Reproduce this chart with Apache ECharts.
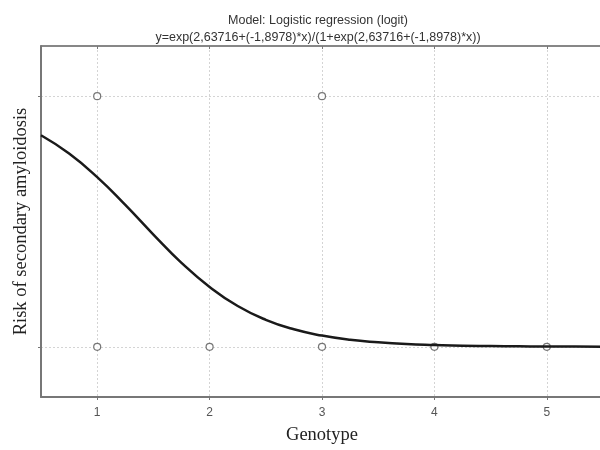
<!DOCTYPE html>
<html>
<head>
<meta charset="utf-8">
<script src="https://cdn.jsdelivr.net/npm/echarts@6/dist/echarts.min.js"></script>
<style>
  html, body { margin: 0; padding: 0; background: #fff; overflow: hidden; }
  /* plot runs past the right edge of the window, as in the original */
  #chart { width: 603px; height: 450px; }
</style>
</head>
<body>
<div id="chart"></div>
<script>
// observed cases (genotype, outcome)
const obsX = [1, 3, 1, 2, 3, 4, 5]
const obsY = [1, 1, 0, 0, 0, 0, 0]

// fitted logistic curve
const curveX = [0.5, 0.75, 1, 1.25, 1.5, 1.75, 2, 2.25, 2.5, 2.75, 3, 3.25, 3.5, 3.75, 4, 4.25, 4.5, 4.75, 5, 5.25, 5.5]
const curveY = [0.844, 0.771, 0.677, 0.566, 0.448, 0.335, 0.239, 0.163, 0.108, 0.070, 0.045, 0.028, 0.018, 0.011, 0.007, 0.004, 0.003, 0.002, 0.001, 0.001, 0.000]

const xTicks = [1, 2, 3, 4, 5]
const yTicks = [0, 1]

const chart = echarts.init(document.getElementById('chart'))

const gridLine = { show: true, lineStyle: { color: '#d4d4d4', type: [2, 2], width: 1 } }

chart.setOption({
  backgroundColor: '#fff',
  animation: false,
  title: {
    text: 'Model: Logistic regression (logit)\ny=exp(2,63716+(-1,8978)*x)/(1+exp(2,63716+(-1,8978)*x))',
    left: 313,
    top: 7,
    textAlign: 'center',
    textStyle: { fontFamily: 'Liberation Sans', fontSize: 12.5, fontWeight: 'normal', color: '#333', lineHeight: 17 }
  },
  grid: { left: 41, top: 46, bottom: 49, right: 0, show: true, borderColor: '#777', borderWidth: 1, backgroundColor: '#fff' },
  xAxis: [{
    type: 'value',
    min: 0.5,
    max: 5.5,
    name: 'Genotype',
    nameLocation: 'middle',
    nameGap: 29,
    nameTextStyle: { fontFamily: 'Liberation Serif', fontSize: 18.5, color: '#222' },
    axisLine: { show: true, onZero: false, lineStyle: { color: '#777', width: 2 } },
    axisTick: { show: true, customValues: xTicks, length: 3, lineStyle: { color: '#777' } },
    axisLabel: { customValues: xTicks, color: '#555', fontFamily: 'Liberation Sans', fontSize: 12, margin: 10 },
    splitLine: gridLine
  }, {
    type: 'value',
    position: 'top',
    min: 0.5,
    max: 5.5,
    axisLine: { show: true, onZero: false, lineStyle: { color: '#777', width: 1.5 } },
    axisTick: { show: true, inside: true, customValues: xTicks, length: 3, lineStyle: { color: '#777' } },
    axisLabel: { show: false },
    splitLine: { show: false }
  }],
  yAxis: {
    type: 'value',
    min: -0.2,
    max: 1.2,
    name: 'Risk of secondary amyloidosis',
    nameLocation: 'middle',
    nameGap: 10,
    nameTextStyle: { fontFamily: 'Liberation Serif', fontSize: 18.5, color: '#222' },
    axisLine: { show: true, onZero: false, lineStyle: { color: '#777', width: 2 } },
    axisTick: { show: true, customValues: yTicks, length: 3, lineStyle: { color: '#777' } },
    axisLabel: { show: false, customValues: yTicks },
    splitLine: gridLine
  },
  series: [
    {
      type: 'line',
      data: curveX.map((x, i) => [x, curveY[i]]),
      smooth: true,
      symbol: 'none',
      lineStyle: { color: '#1a1a1a', width: 2.5 },
      z: 3
    },
    {
      type: 'scatter',
      data: obsX.map((x, i) => [x, obsY[i]]),
      symbol: 'circle',
      symbolSize: 7,
      itemStyle: { color: '#fff', borderColor: '#555', borderWidth: 1.2 },
      z: 2
    }
  ]
})
</script>
</body>
</html>
